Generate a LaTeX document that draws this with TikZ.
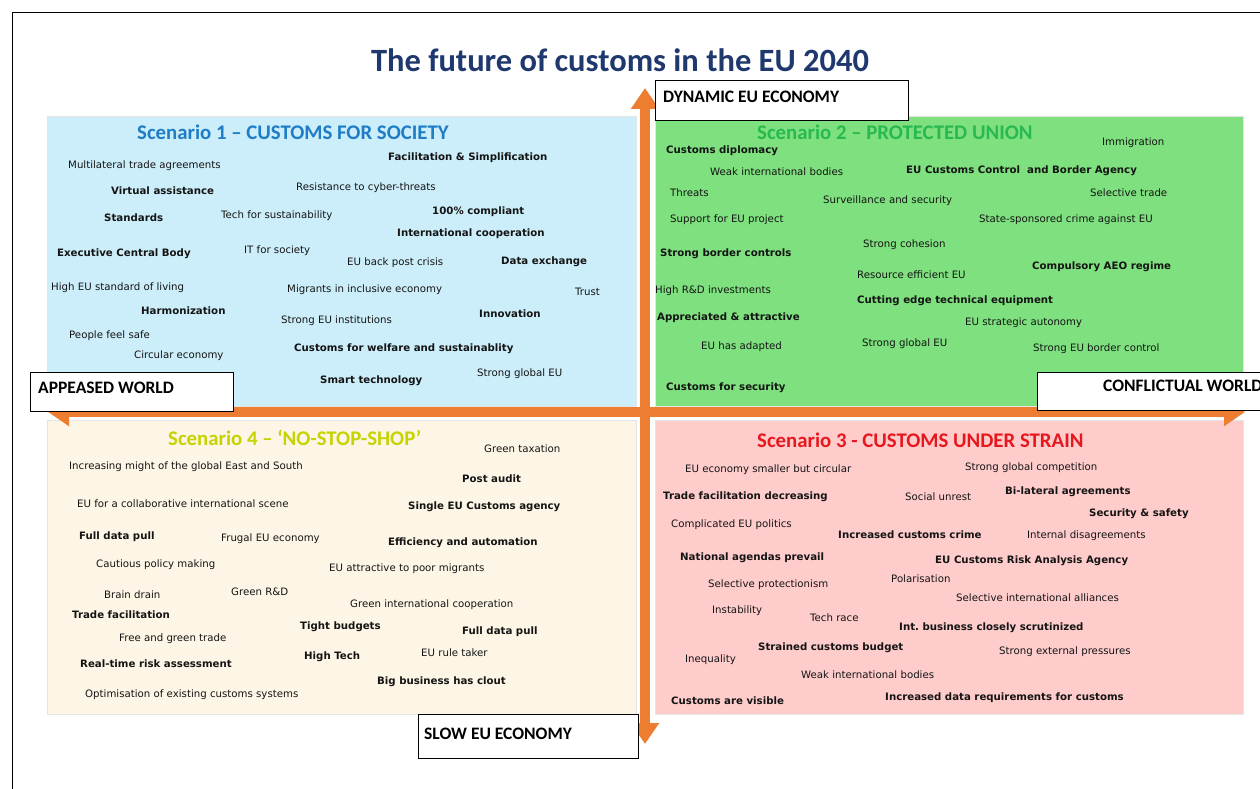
\documentclass[tikz,border=0pt]{standalone}
\usepackage{fontspec}
\setmainfont{DejaVu Sans}
\newfontfamily\hdf{Carlito}
\usetikzlibrary{arrows.meta}
\definecolor{qone}{RGB}{204,238,250}
\definecolor{qtwo}{RGB}{126,224,126}
\definecolor{qthree}{RGB}{255,204,204}
\definecolor{qfour}{RGB}{253,246,230}
\definecolor{axor}{RGB}{237,125,49}
\definecolor{ttl}{RGB}{31,56,110}
\definecolor{sone}{RGB}{30,125,198}
\definecolor{stwo}{RGB}{40,185,80}
\definecolor{sthree}{RGB}{230,24,30}
\definecolor{sfour}{RGB}{197,211,0}
\definecolor{txt}{RGB}{20,20,20}
\tikzset{
  nrm/.style={anchor=west,inner sep=0pt,text=txt,font=\fontsize{10.2}{11}\selectfont},
  bld/.style={anchor=west,inner sep=0pt,text=txt,font=\fontsize{10.2}{11}\selectfont\bfseries},
  quad/.style={draw=black!10,line width=0.5pt},
  scen/.style={anchor=west,inner sep=0pt,font=\hdf\bfseries\fontsize{20.8}{22}\selectfont},
  axbox/.style={draw=black,fill=white,line width=0.7pt,inner sep=0pt},
  axlab/.style={anchor=west,inner sep=0pt,font=\hdf\bfseries\fontsize{17.5}{19}\selectfont},
  axarrow/.style={draw=axor,line width=10pt,{Triangle[length=21pt,width=27pt]}-{Triangle[length=21pt,width=27pt]}},
}
\begin{document}
\begin{tikzpicture}[x=1pt,y=-1pt]
\useasboundingbox (0,0) rectangle (1260,789);
\fill[white] (0,0) rectangle (1260,789);
\draw[black,line width=0.8pt] (1270,12) -- (12,12) -- (12,800);
\node[inner sep=0pt,text=ttl,font=\hdf\bfseries\fontsize{32.5}{35}\selectfont] (title) at (620,60) {The future of customs in the EU 2040};
% quadrants
\fill[qone,quad] (47,116) rectangle (636,406);
\fill[qtwo,quad] (655,116) rectangle (1243,406);
\fill[qfour,quad] (47,420) rectangle (636,714);
\fill[qthree,quad] (655,420) rectangle (1243,714);
% arrows
\coordinate (vtop) at (645,88);
\coordinate (vbot) at (645,744);
\coordinate (hleft) at (48,412);
\coordinate (hright) at (1245,412);
\draw[axarrow] (vbot) -- (vtop);
\draw[axarrow] (hleft) -- (hright);
% axis boxes
\draw[axbox] (655,80) rectangle (908,120);
\node[axlab] (dyn) at (663,97) {DYNAMIC EU ECONOMY};
\draw[axbox] (30,372) rectangle (233,411);
\node[axlab] (app) at (38,388) {APPEASED WORLD};
\draw[axbox] (1037,372) rectangle (1280,410);
\node[axlab] (con) at (1103,386) {CONFLICTUAL WORLD};
\draw[axbox] (418,714) rectangle (638,758);
\node[axlab] (slow) at (424,734) {SLOW EU ECONOMY};
% headings
\node[scen,text=sone] (s1) at (137,132) {Scenario 1 – CUSTOMS FOR SOCIETY};
\node[scen,text=stwo] (s2) at (757,132) {Scenario 2 – PROTECTED UNION};
\node[scen,text=sthree] (s3) at (757,440) {Scenario 3 - CUSTOMS UNDER STRAIN};
\node[scen,text=sfour] (s4) at (168,438) {Scenario 4 – ‘NO-STOP-SHOP’};
% Q1 items
\foreach \x/\y/\t [count=\i] in {68/166/Multilateral trade agreements, 296/188/Resistance to cyber-threats, 221/216/Tech for sustainability, 244/251/IT for society, 347/263/EU back post crisis, 51/288/High EU standard of living, 287/290/Migrants in inclusive economy, 575/292/Trust, 281/321/Strong EU institutions, 69/336/People feel safe, 134/356/Circular economy, 477/374/Strong global EU}
  \node[nrm] (an\i) at (\x,\y) {\t};
\foreach \x/\y/\t [count=\i] in {388/158/Facilitation \& Simplification, 111/191/Virtual assistance, 104/218/Standards, 432/212/100\% compliant, 397/234/International cooperation, 57/254/Executive Central Body, 501/262/Data exchange, 141/311/Harmonization, 479/314/Innovation, 294/349/Customs for welfare and sustainablity, 320/381/Smart technology}
  \node[bld] (ab\i) at (\x,\y) {\t};
% Q2 items
\foreach \x/\y/\t [count=\i] in {1102/143/Immigration, 710/172/Weak international bodies, 670/193/Threats, 1090/193/Selective trade, 823/201/Surveillance and security, 670/220/Support for EU project, 979/220/State-sponsored crime against EU, 863/245/Strong cohesion, 857/275/Resource efficient EU, 655/291/High R\&D investments, 965/323/EU strategic autonomy, 701/347/EU has adapted, 862/344/Strong global EU, 1033/349/Strong EU border control}
  \node[nrm] (bn\i) at (\x,\y) {\t};
\foreach \x/\y/\t [count=\i] in {666/151/Customs diplomacy, 906/171/EU Customs Control~ and Border Agency, 660/254/Strong border controls, 1032/267/Compulsory AEO regime, 857/301/Cutting edge technical equipment, 657/318/Appreciated \& attractive, 666/388/Customs for security}
  \node[bld] (bb\i) at (\x,\y) {\t};
% Q3 items
\foreach \x/\y/\t [count=\i] in {685/470/EU economy smaller but circular, 965/468/Strong global competition, 905/497/Social unrest, 671/525/Complicated EU politics, 1027/536/Internal disagreements, 891/579/Polarisation, 708/585/Selective protectionism, 956/598/Selective international alliances, 712/611/Instability, 810/618/Tech race, 999/652/Strong external pressures, 685/660/Inequality, 801/675/Weak international bodies}
  \node[nrm] (cn\i) at (\x,\y) {\t};
\foreach \x/\y/\t [count=\i] in {663/497/Trade facilitation decreasing, 1005/492/Bi-lateral agreements, 1089/514/Security \& safety, 838/535/Increased customs crime, 680/558/National agendas prevail, 935/561/EU Customs Risk Analysis Agency, 899/628/Int.\ business closely scrutinized, 758/648/Strained customs budget, 671/701/Customs are visible, 885/698/Increased data requirements for customs}
  \node[bld] (cb\i) at (\x,\y) {\t};
% Q4 items
\foreach \x/\y/\t [count=\i] in {69/467/Increasing might of the global East and South, 484/449/Green taxation, 77/504/EU for a collaborative international scene, 221/539/Frugal EU economy, 96/565/Cautious policy making, 329/569/EU attractive to poor migrants, 104/595/Brain drain, 231/592/Green R\&D, 350/605/Green international cooperation, 119/639/Free and green trade, 421/653/EU rule taker, 85/695/Optimisation of existing customs systems}
  \node[nrm] (dn\i) at (\x,\y) {\t};
\foreach \x/\y/\t [count=\i] in {462/479/Post audit, 408/507/Single EU Customs agency, 79/537/Full data pull, 388/543/Efficiency and automation, 72/615/Trade facilitation, 300/627/Tight budgets, 462/632/Full data pull, 304/657/High Tech, 80/664/Real-time risk assessment, 377/682/Big business has clout}
  \node[bld] (db\i) at (\x,\y) {\t};
\end{tikzpicture}
\end{document}
